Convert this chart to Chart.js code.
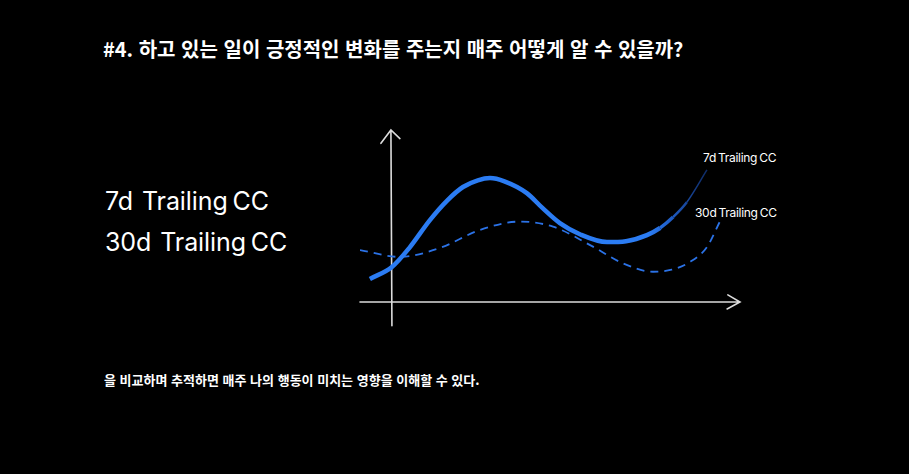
<!DOCTYPE html>
<html lang="ko">
<head>
    <meta charset="UTF-8">
    <title>7d / 30d Trailing CC</title>
    <script src="https://cdn.jsdelivr.net/npm/chart.js"></script>
    <style>
        html, body { margin: 0; padding: 0; background: #000; }
        body { width: 909px; height: 474px; position: relative; overflow: hidden; color: #fff; }
        #chart { position: absolute; left: 0; top: 0; }
        .txt { position: absolute; white-space: nowrap; }
        .title { left: 103px; top: 34px; font: bold 20px "Noto Sans CJK KR", sans-serif; letter-spacing: 0px; }
        .note { left: 104px; top: 370px; font: bold 13px "Noto Sans CJK KR", sans-serif; letter-spacing: 0px; }
        .big { left: 105px; font: 25px Inter, sans-serif; letter-spacing: -0.1px; word-spacing: -2px; }
        .big span { margin-left: 9px; }
        .small { font: 12px Inter, sans-serif; letter-spacing: -0.3px; word-spacing: -1px; }
    </style>
</head>
<body>
    <div class="txt title">#4. 하고 있는 일이 긍정적인 변화를 주는지 매주 어떻게 알 수 있을까?</div>
    <div class="txt big" style="top:186px">7d<span>Trailing CC</span></div>
    <div class="txt big" style="top:227px">30d<span>Trailing CC</span></div>
    <div class="txt small" style="left:703px; top:150px">7d Trailing CC</div>
    <div class="txt small" style="left:695px; top:205px">30d Trailing CC</div>
    <div class="txt note">을 비교하며 추적하면 매주 나의 행동이 미치는 영향을 이해할 수 있다.</div>
    <canvas id="chart" width="909" height="474"></canvas>

    <script>
        // values (arbitrary units, x 0-100, y 0-100)
        const trail7X = [2.6, 8.4, 13, 18.4, 23, 27.1, 31, 34.2, 38, 43.9, 48, 52.6, 58, 65, 70, 75.5, 79, 82.4, 86, 91.3];
        const trail7Y = [21.6, 27.9, 38, 52.6, 63, 70, 73.5, 74.7, 73, 66.8, 59, 51, 45, 41, 41.5, 44.7, 48.5, 54.2, 62, 79];

        const trail30X = [0, 10.5, 21, 31.6, 42.1, 50.8, 61.3, 69.2, 77.1, 82, 86.8, 91.3, 94.7];
        const trail30Y = [36.8, 33.2, 37.9, 47.4, 51.8, 49.1, 38.6, 29.8, 25.4, 26.5, 30.5, 38.4, 51.8];

        const axisX = 8.4;   // where the vertical axis sits
        const axisY = 9.5;   // where the horizontal axis sits

        const toPoints = (xs, ys) => xs.map((x, i) => ({ x: x, y: ys[i] }));

        function fadeStroke(context) {
            const area = context.chart.chartArea;
            if (!area) return '#2b7cf3';
            const ctx = context.chart.ctx;
            const g = ctx.createLinearGradient(area.left, 0, area.right, 0);
            g.addColorStop(0, '#2b7cf3');
            g.addColorStop(0.76, '#2b7cf3');
            g.addColorStop(0.82, '#1f5cc4');
            g.addColorStop(0.88, '#143b85');
            g.addColorStop(0.93, '#0b2356');
            g.addColorStop(1, '#06132e');
            return g;
        }

        // the 7d line gets thinner where it fades out
        function fadeWidth(seg) {
            const x = seg.p0.parsed.x;
            if (x >= 86) return 1.5;
            if (x >= 82) return 2.5;
            if (x >= 79) return 3.5;
            return 4.5;
        }

        // hand drawn looking axes with arrow heads
        const sketchAxes = {
            id: 'sketchAxes',
            beforeDatasetsDraw(chart) {
                const ctx = chart.ctx;
                const xs = chart.scales.x;
                const ys = chart.scales.y;
                const ax = xs.getPixelForValue(axisX);
                const ay = ys.getPixelForValue(axisY);
                ctx.save();
                ctx.strokeStyle = '#dcdcdc';
                ctx.lineWidth = 1.6;
                ctx.lineCap = 'round';
                ctx.beginPath();
                // vertical axis
                ctx.moveTo(ax, ys.getPixelForValue(-3));
                ctx.lineTo(ax - 1, ys.getPixelForValue(100));
                // arrow on top
                ctx.moveTo(ax - 11, ys.getPixelForValue(93));
                ctx.lineTo(ax - 1, ys.getPixelForValue(100));
                ctx.lineTo(ax + 8, ys.getPixelForValue(95.5));
                // horizontal axis
                ctx.moveTo(xs.getPixelForValue(0), ay);
                ctx.lineTo(xs.getPixelForValue(100), ay);
                // arrow on the right
                ctx.moveTo(xs.getPixelForValue(96.8), ys.getPixelForValue(13.2));
                ctx.lineTo(xs.getPixelForValue(100), ay);
                ctx.lineTo(xs.getPixelForValue(96.6), ys.getPixelForValue(5.8));
                ctx.stroke();
                ctx.restore();
            }
        };

        new Chart(document.getElementById('chart'), {
            type: 'line',
            data: {
                datasets: [
                    {
                        label: '7d Trailing CC',
                        data: toPoints(trail7X, trail7Y),
                        borderColor: fadeStroke,
                        borderWidth: 4.5,
                        segment: { borderWidth: fadeWidth },
                        pointRadius: 0,
                        cubicInterpolationMode: 'monotone',
                        fill: false
                    },
                    {
                        label: '30d Trailing CC',
                        data: toPoints(trail30X, trail30Y),
                        borderColor: '#2b72e6',
                        borderWidth: 1.8,
                        borderDash: [8, 6],
                        pointRadius: 0,
                        cubicInterpolationMode: 'monotone',
                        fill: false
                    }
                ]
            },
            options: {
                responsive: false,
                animation: false,
                layout: { padding: { left: 360, right: 169, top: 130, bottom: 154 } },
                scales: {
                    x: { type: 'linear', min: 0, max: 100, display: false },
                    y: { type: 'linear', min: 0, max: 100, display: false }
                },
                plugins: {
                    legend: { display: false },
                    tooltip: { enabled: false }
                }
            },
            plugins: [sketchAxes]
        });
    </script>
</body>
</html>
